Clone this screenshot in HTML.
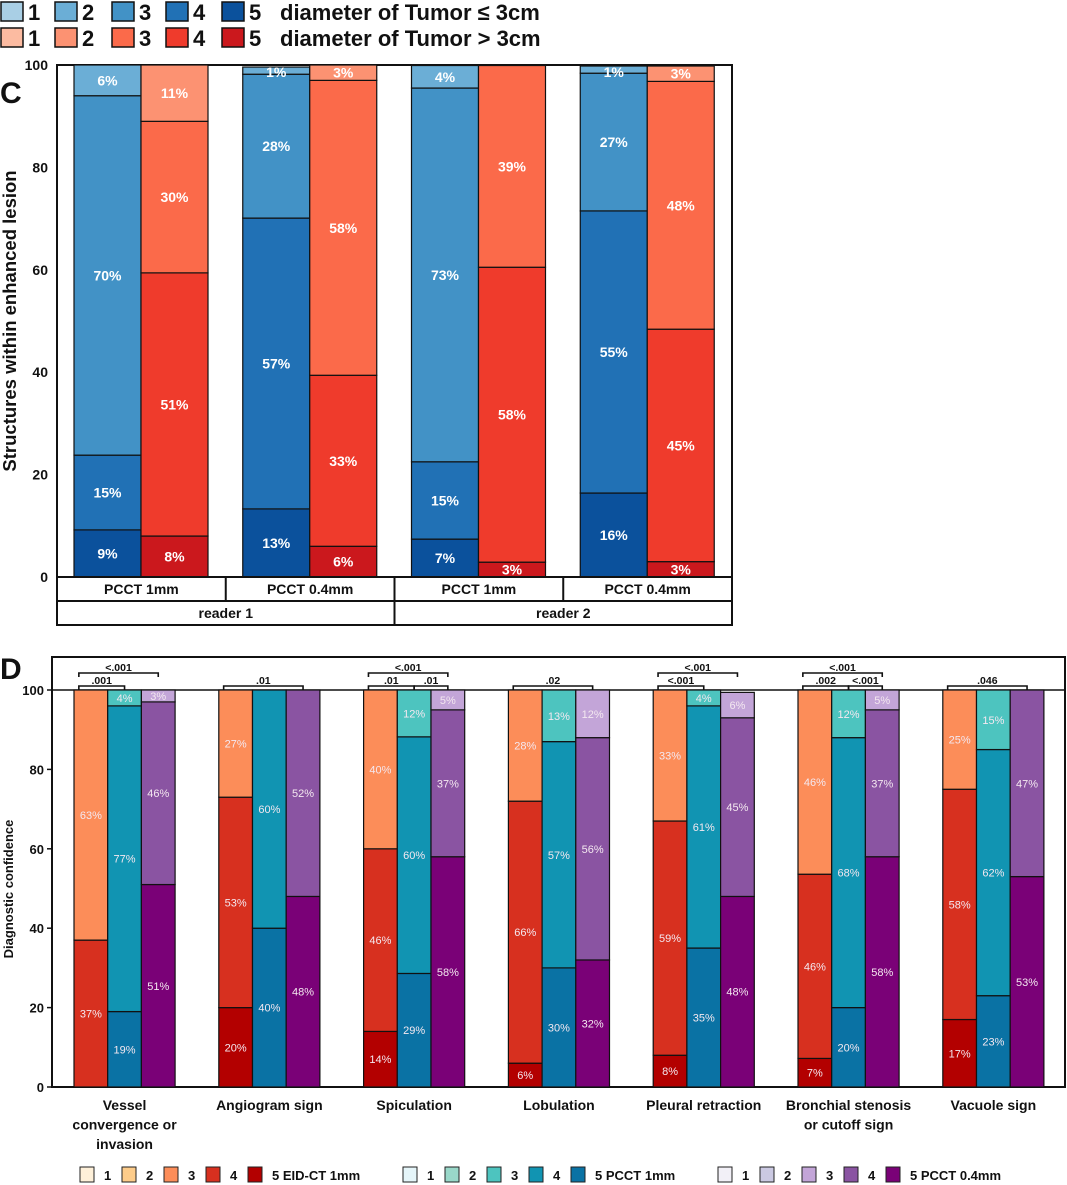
<!DOCTYPE html>
<html><head><meta charset="utf-8"><style>
html,body{margin:0;padding:0;background:#fff;}
svg{display:block;font-family:"Liberation Sans",Arial,sans-serif;}
</style></head><body>
<svg id="fig" width="1067" height="1185" viewBox="0 0 1067 1185" xmlns="http://www.w3.org/2000/svg">
<g id="topLegend"></g>
<g id="panelC"></g>
<g id="panelD"></g>
</svg>
<script>
// ---------- Panel C data (stack order bottom-up: levels 5,4,3,2) ----------
const cCategories = ["PCCT 1mm","PCCT 0.4mm","PCCT 1mm","PCCT 0.4mm"];
const cReaders = ["reader 1","reader 2"];
const cSmall_L5 = [9.2, 13.3, 7.4, 16.4];
const cSmall_L4 = [14.6, 56.8, 15.1, 55.1];
const cSmall_L3 = [70.2, 28.1, 73.0, 26.9];
const cSmall_L2 = [6.0, 1.4, 4.4, 1.4];
const cLarge_L5 = [8.0, 6.0, 2.9, 3.0];
const cLarge_L4 = [51.4, 33.4, 57.6, 45.4];
const cLarge_L3 = [29.6, 57.6, 39.4, 48.4];
const cLarge_L2 = [11.0, 3.0, 0, 3.0];
const cTicks = [0,20,40,60,80,100];

// ---------- Panel D data (bottom-up: levels 5,4,3) ----------
const dCategories = [["Vessel","convergence or","invasion"],["Angiogram sign"],["Spiculation"],["Lobulation"],["Pleural retraction"],["Bronchial stenosis","or cutoff sign"],["Vacuole sign"]];
const eid_L5 = [0, 20, 14, 6, 8, 7.2, 17];
const eid_L4 = [37, 53, 46, 66, 59, 46.4, 58];
const eid_L3 = [63, 27, 40, 28, 33, 46.4, 25];
const p1_L5 = [19, 40, 28.6, 30, 35, 20, 23];
const p1_L4 = [77, 60, 59.6, 57, 61, 68, 62];
const p1_L3 = [4, 0, 11.8, 13, 4, 12, 15];
const p04_L5 = [51, 48, 58, 32, 48, 58, 53];
const p04_L4 = [46, 52, 37, 56, 45, 37, 47];
const p04_L3 = [3, 0, 5, 12, 6.4, 5, 0];
const dTicks = [0,20,40,60,80,100];
const sigGroups = [0,0,1,2,2,2,3,4,4,5,5,5,6];
const sigFrom   = [0,0,0,0,1,0,0,0,0,0,1,0,0];
const sigTo     = [1,2,2,1,2,2,2,1,2,1,2,2,2];
const sigLevel  = [0,1,0,0,0,1,0,0,1,0,0,1,0];
const sigLabel  = [".001","<.001",".01",".01",".01","<.001",".02","<.001","<.001",".002","<.001","<.001",".046"];

const NS="http://www.w3.org/2000/svg";
function mk(parent,tag,attrs,text){const e=document.createElementNS(NS,tag);for(const k in attrs)e.setAttribute(k,attrs[k]);if(text!==undefined)e.textContent=text;parent.appendChild(e);return e;}

// ---------- top legend ----------
const blues=["#a9cfe5","#6baed6","#4292c6","#2171b5","#0b519c"];
const reds=["#fcbba1","#fc9272","#fb6a4a","#ef3b2c","#cb181d"];
const TL=document.getElementById('topLegend');
const legX=[1,55,112,166,222];
[[blues,2,"diameter of Tumor ≤ 3cm"],[reds,28,"diameter of Tumor > 3cm"]].forEach(([cols,y,txt],r)=>{
  for(let i=0;i<5;i++){
    const s=mk(TL,'rect',{x:legX[i],y:y,width:22,height:19,fill:cols[i],stroke:'#111','stroke-width':1.5});
    
    
    const t=mk(TL,'text',{x:legX[i]+27,y:y+18,'font-size':22,'font-weight':'bold',fill:'#111'},String(i+1));
    
    
  }
  const d=mk(TL,'text',{x:280,y:y+18,'font-size':22,'font-weight':'bold',fill:'#111'},txt);
  
  
});

// ---------- Panel C ----------
const C=document.getElementById('panelC');
const cx0=57,cx1=732,cy0=577,cy100=65;
const cy=v=>cy0-(v/100)*(cy0-cy100);
mk(C,'text',{x:0,y:103,'font-size':30,'font-weight':'bold',fill:'#111'},"C");
mk(C,'rect',{x:cx0,y:cy100,width:cx1-cx0,height:cy0-cy100,fill:'none',stroke:'#111','stroke-width':2});
cTicks.forEach(t=>{const e=mk(C,'text',{x:48,y:cy(t)+5,'text-anchor':'end','font-size':14,'font-weight':'bold',fill:'#111'},String(t));
});
const yt=mk(C,'text',{x:16,y:321,'text-anchor':'middle','font-size':18.5,'font-weight':'bold',fill:'#111',transform:'rotate(-90 16 321)'},"Structures within enhanced lesion");

const colW=(cx1-cx0)/4;
function stackC(x,w,vals,cols){
  let acc=0;
  vals.forEach((v,k)=>{
    if(v<=0)return;
    const y1=cy(acc+v),y0=cy(acc);
    const r=mk(C,'rect',{x:x,y:y1,width:w,height:y0-y1,fill:cols[k],stroke:'#111','stroke-width':1.2});
    
    const lab=mk(C,'text',{x:x+w/2,y:Math.max((y0+y1)/2+5,cy100+12),'text-anchor':'middle','font-size':14,'font-weight':'bold',fill:'#fff'},Math.round(v)+"%");
    
    acc+=v;
  });
}
for(let i=0;i<4;i++){
  const x=cx0+colW*i+17;
  stackC(x,67,[cSmall_L5[i],cSmall_L4[i],cSmall_L3[i],cSmall_L2[i]],[blues[4],blues[3],blues[2],blues[1]]);
  stackC(x+67,67,[cLarge_L5[i],cLarge_L4[i],cLarge_L3[i],cLarge_L2[i]],[reds[4],reds[3],reds[2],reds[1]]);
}
mk(C,'rect',{x:cx0,y:577,width:cx1-cx0,height:48,fill:'none',stroke:'#111','stroke-width':2});
mk(C,'line',{x1:cx0,x2:cx1,y1:601,y2:601,stroke:'#111','stroke-width':2});
for(let i=1;i<4;i++){mk(C,'line',{x1:cx0+colW*i,x2:cx0+colW*i,y1:577,y2:i===2?625:601,stroke:'#111','stroke-width':2});}
cCategories.forEach((c,i)=>{const t=mk(C,'text',{x:cx0+colW*(i+0.5),y:594,'text-anchor':'middle','font-size':14,'font-weight':'bold',fill:'#111'},c);
});
cReaders.forEach((c,i)=>{const t=mk(C,'text',{x:cx0+colW*(2*i+1),y:618,'text-anchor':'middle','font-size':14,'font-weight':'bold',fill:'#111'},c);
});

// ---------- Panel D ----------
const D=document.getElementById('panelD');
const dx0=52,dx1=1065,dy0=1087,dy100=690;
const dy=v=>dy0-(v/100)*(dy0-dy100);
const eidC=["#b30000","#d7301f","#fc8d59","#fdcc8a","#fef0d9"];
const p1C=["#0a72a4","#1194b2","#4dc4bf","#99d8c9","#e5f5f9"];
const p04C=["#7a0177","#8a54a2","#c3a5d8","#cbc9e2","#f2f0f7"];
mk(D,'text',{x:0,y:679,'font-size':30,'font-weight':'bold',fill:'#111'},"D");
mk(D,'rect',{x:dx0,y:657,width:dx1-dx0,height:dy0-657,fill:'none',stroke:'#111','stroke-width':2});
mk(D,'line',{x1:dx0,x2:dx1,y1:dy100,y2:dy100,stroke:'#111','stroke-width':1.5});
dTicks.forEach(t=>{mk(D,'line',{x1:dx0-5,x2:dx0,y1:dy(t),y2:dy(t),stroke:'#111','stroke-width':1.5});
const e=mk(D,'text',{x:dx0-8,y:dy(t)+5,'text-anchor':'end','font-size':13,'font-weight':'bold',fill:'#111'},String(t));
});
const yt2=mk(D,'text',{x:13,y:889,'text-anchor':'middle','font-size':13,'font-weight':'bold',fill:'#111',transform:'rotate(-90 13 889)'},"Diagnostic confidence");

const gStep=144.8,bw=33.7,gStart=74;
function stackD(x,vals,cols){
  let acc=0;
  vals.forEach((v,k)=>{
    if(v<=0)return;
    const y1=dy(acc+v),y0=dy(acc);
    const r=mk(D,'rect',{x:x,y:y1,width:bw,height:y0-y1,fill:cols[k],stroke:'#111','stroke-width':1.2});
    
    const lab=mk(D,'text',{x:x+bw/2,y:(y0+y1)/2+4,'text-anchor':'middle','font-size':11,fill:'#f4e8f0'},Math.round(v)+"%");
    
    acc+=v;
  });
}
dCategories.forEach((lines,g)=>{
  const x=gStart+gStep*g;
  stackD(x,[eid_L5[g],eid_L4[g],eid_L3[g]],eidC);
  stackD(x+bw,[p1_L5[g],p1_L4[g],p1_L3[g]],p1C);
  stackD(x+2*bw,[p04_L5[g],p04_L4[g],p04_L3[g]],p04C);
  lines.forEach((ln,j)=>{const t=mk(D,'text',{x:x+1.5*bw,y:1110+j*19.5,'text-anchor':'middle','font-size':14,'font-weight':'bold',fill:'#111'},ln);
  });
});
sigLabel.forEach((lab,i)=>{
  const x=gStart+gStep*sigGroups[i];
  const xa=x+bw*(sigFrom[i]+0.5)-12+(sigFrom[i]>0?12:0), xb=x+bw*(sigTo[i]+0.5);
  const y=sigLevel[i]?673:686;
  const g=mk(D,'g',{});
  
  mk(g,'path',{d:`M${xa} ${y+4}V${y}H${xb}V${y+4}`,fill:'none',stroke:'#111','stroke-width':1.6});
  mk(g,'text',{x:(xa+xb)/2,y:y-2,'text-anchor':'middle','font-size':10.5,'font-weight':'bold',fill:'#111'},lab);
});
const LG=mk(D,'g',{});

[[eidC,80,"EID-CT 1mm"],[p1C,403,"PCCT 1mm"],[p04C,718,"PCCT 0.4mm"]].forEach(([cols,x0,name])=>{
  for(let i=0;i<5;i++){
    const x=x0+42*i;
    const s=mk(LG,'rect',{x:x,y:1167,width:14,height:15,fill:cols[4-i],stroke:'#222','stroke-width':1});
    
    const t=mk(LG,'text',{x:x+24,y:1180,'font-size':13,'font-weight':'bold',fill:'#111'},String(i+1)+(i===4?" "+name:""));
    
  }
});
</script>
</body></html>
